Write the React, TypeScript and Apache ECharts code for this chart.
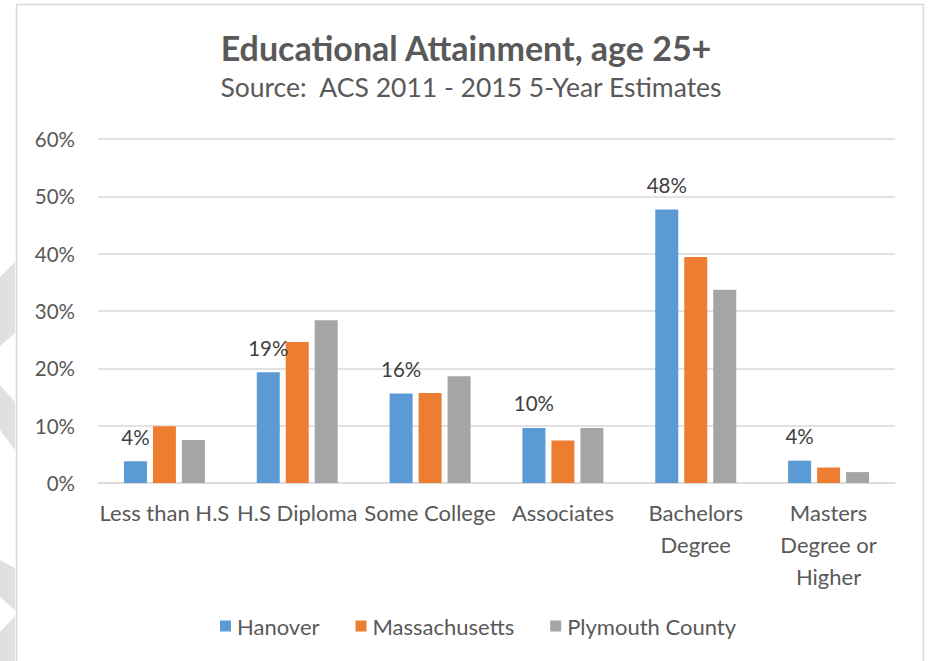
import React, { useEffect, useRef } from "react";
import * as echarts from "echarts";

const categories = [
  "Less than H.S",
  "H.S Diploma",
  "Some College",
  "Associates",
  "Bachelors Degree",
  "Masters Degree or Higher",
];
const tickLabels = [
  "Less than H.S",
  "H.S Diploma",
  "Some College",
  "Associates",
  "Bachelors\nDegree",
  "Masters\nDegree or\nHigher",
];
const hanover = [3.8, 19.3, 15.6, 9.6, 47.7, 3.9];
const massachusetts = [9.9, 24.6, 15.7, 7.4, 39.4, 2.7];
const plymouth = [7.5, 28.4, 18.6, 9.6, 33.7, 1.9];
const seriesNames = ["Hanover", "Massachusetts", "Plymouth County"];
const colors = ["#5B9BD5", "#ED7D31", "#A5A5A5"];

const FONT = "Lato";

export default function App() {
  const ref = useRef<HTMLDivElement>(null);
  useEffect(() => {
    if (!ref.current) return;
    const chart = echarts.init(ref.current, null, { renderer: "svg" });
    const chev = "#E0E0E0";
    chart.setOption({
      animation: false,
      backgroundColor: "#ffffff",
      color: colors,
      title: [
        {
          text: "Educational Attainment, age 25+",
          left: 461,
          textAlign: "center",
          top: 25,
          textStyle: { fontFamily: FONT, fontSize: 34, fontWeight: "bold", color: "#595959" },
        },
        {
          text: "Source:  ACS 2011 - 2015 5-Year Estimates",
          left: 466,
          textAlign: "center",
          top: 68,
          textStyle: { fontFamily: FONT, fontSize: 26.5, fontWeight: "normal", color: "#595959" },
        },
      ],
      legend: {
        data: seriesNames,
        left: 215,
        top: 610,
        itemWidth: 11,
        itemHeight: 11,
        itemGap: 36,
        icon: "rect",
        textStyle: { fontFamily: FONT, fontSize: 22, color: "#595959", padding: [0, 0, 0, 1] },
      },
      grid: { left: 98, right: 35, top: 139, bottom: 178, containLabel: false },
      xAxis: {
        type: "category",
        data: categories,
        axisLine: { lineStyle: { color: "#D9D9D9", width: 1.5 } },
        axisTick: { show: false },
        axisLabel: {
          interval: 0,
          margin: 13,
          fontFamily: FONT,
          fontSize: 22,
          color: "#595959",
          lineHeight: 32,
          formatter: (_v: string, i: number) => tickLabels[i],
        },
      },
      yAxis: {
        type: "value",
        min: 0,
        max: 60,
        interval: 10,
        axisLine: { show: false },
        axisTick: { show: false },
        splitLine: { lineStyle: { color: "#D9D9D9", width: 1.5 } },
        axisLabel: {
          margin: 23,
          fontFamily: FONT,
          fontSize: 20.5,
          color: "#595959",
          formatter: "{value}%",
        },
      },
      series: [
        {
          name: seriesNames[0],
          type: "bar",
          data: hanover,
          barWidth: 23,
          barGap: "26%",
          label: {
            show: true,
            position: "top",
            distance: 14,
            fontFamily: FONT,
            fontSize: 20.5,
            color: "#404040",
            formatter: (p: any) => Math.round(p.value) + "%",
          },
        },
        { name: seriesNames[1], type: "bar", data: massachusetts, barWidth: 23, barGap: "26%" },
        { name: seriesNames[2], type: "bar", data: plymouth, barWidth: 23, barGap: "26%" },
      ],
      graphic: [
        { type: "polygon", silent: true, shape: { points: [[0, 277], [15, 262], [15, 333], [0, 346]] }, style: { fill: chev } },
        { type: "polygon", silent: true, shape: { points: [[0, 385], [15, 402], [15, 450], [0, 430]] }, style: { fill: chev } },
        { type: "polygon", silent: true, shape: { points: [[0, 560], [15, 568], [15, 610], [0, 597]] }, style: { fill: chev } },
        { type: "polygon", silent: true, shape: { points: [[0, 632], [15, 616], [15, 661], [0, 661]] }, style: { fill: chev } },
        {
          type: "rect",
          silent: true,
          shape: { x: 16.5, y: 4.5, width: 907, height: 700 },
          style: { fill: "none", stroke: "#D9D9D9", lineWidth: 1.5 },
        },
      ],
    });
    return () => chart.dispose();
  }, []);
  return (
    <div
      ref={ref}
      style={{ position: "fixed", left: 0, top: 0, width: 930, height: 661 }}
    />
  );
}
